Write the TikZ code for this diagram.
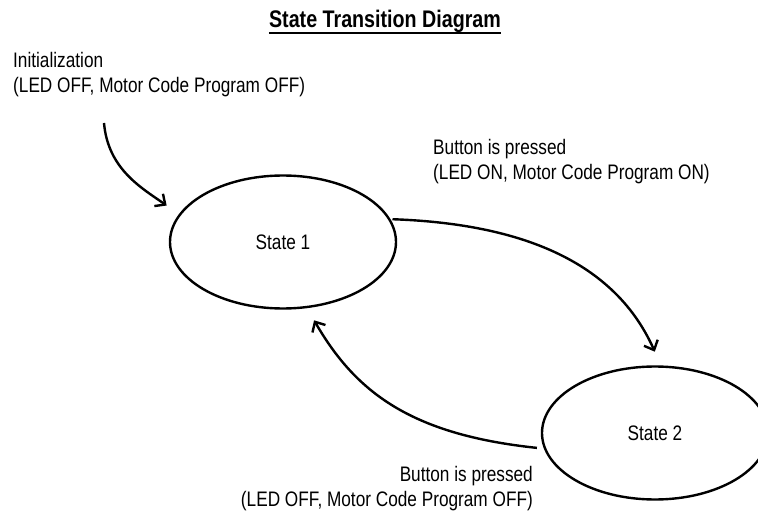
\documentclass[tikz,border=0pt]{standalone}
\usepackage{fontspec}
\setsansfont{Liberation Sans}[FakeStretch=0.82]
\usetikzlibrary{shapes.geometric,arrows.meta}
\definecolor{STDInk}{HTML}{000000}
\tikzset{
  stdstate/.style={ellipse,draw=STDInk,line width=2.4pt,minimum width=226pt,minimum height=133pt,inner sep=0pt,text=STDInk,font=\sffamily\fontsize{21}{26}\selectfont},
  stdlabel/.style={inner sep=0pt,text=STDInk,font=\sffamily\fontsize{21}{25.5}\selectfont},
  stdtrans/.style={draw=STDInk,line width=2.4pt,-{Straight Barb[length=8pt,width=15pt]}},
}

\begin{document}
\begin{tikzpicture}[x=1pt,y=1pt,font=\sffamily]
  \useasboundingbox (0,0) rectangle (758,515);
  \node[inner sep=0pt,anchor=base,text=STDInk,font=\sffamily\bfseries\fontsize{24}{28}\selectfont] (title) at (385,487) {State Transition Diagram};
  \draw[STDInk,line width=1.5pt] ([yshift=-5pt]title.base west) -- ([yshift=-5pt]title.base east);
  \node[stdlabel,anchor=north west,align=left] (initlbl) at (13,463) {Initialization\\(LED OFF, Motor Code Program OFF)};
  \node[stdlabel,anchor=north west,align=left] (onlbl) at (433,376) {Button is pressed\\(LED ON, Motor Code Program ON)};
  \node[stdlabel,anchor=north east,align=right] (offlbl) at (533,49) {Button is pressed\\(LED OFF, Motor Code Program OFF)};
  \node[stdstate] (s1) at (283,273) {State 1};
  \node[stdstate] (s2) at (655,82) {State 2};
  \coordinate (initpt) at (104,392);
  \draw[stdtrans,shorten >=15pt] (initpt) to[out=-85,in=145] (s1.165);
  \draw[stdtrans,shorten <=2pt,shorten >=15pt] (s1.12) to[out=-2,in=114] (s2.85);
  \draw[stdtrans,shorten <=7pt,shorten >=14pt] (s2.188) to[out=174,in=-60,out looseness=1.25,in looseness=0.9] (s1.290);
\end{tikzpicture}
\end{document}
